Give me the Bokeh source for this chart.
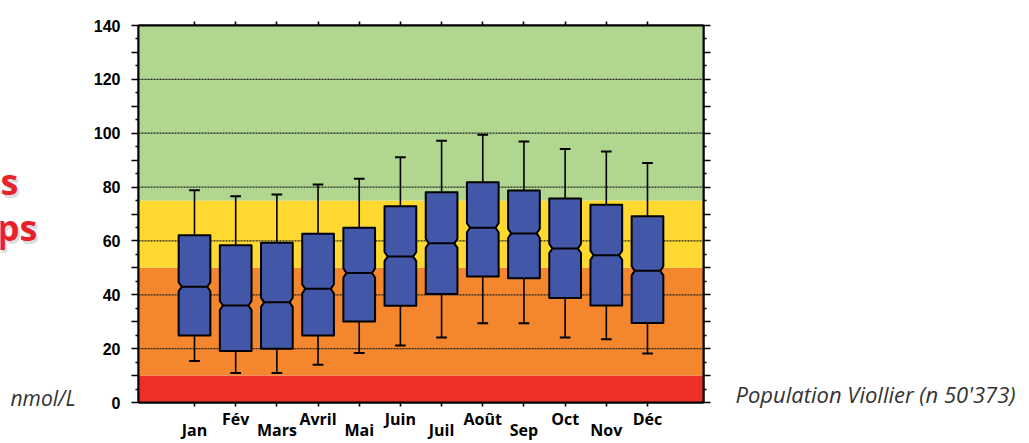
from bokeh.plotting import figure
from bokeh.models import FixedTicker, LinearAxis, Range1d
from bokeh.layouts import row
from bokeh.embed import file_html
from bokeh.resources import INLINE
from bokeh.core.properties import value

# ---------------- data ----------------
months = ["Jan", "Fév", "Mars", "Avril", "Mai", "Juin", "Juil", "Août", "Sep", "Oct", "Nov", "Déc"]
whisker_low = [15.4, 11.0, 11.0, 14.0, 18.4, 21.2, 24.1, 29.4, 29.4, 24.1, 23.5, 18.2]
q1 = [24.9, 19.1, 20.0, 24.9, 30.1, 35.9, 40.3, 46.8, 46.1, 38.8, 36.0, 29.5]
median = [43.0, 36.0, 37.2, 42.2, 48.1, 54.2, 59.1, 64.9, 62.8, 57.2, 54.7, 48.9]
q3 = [62.1, 58.4, 59.3, 62.7, 64.9, 72.9, 78.1, 81.8, 78.7, 75.8, 73.4, 69.2]
whisker_high = [78.8, 76.6, 77.2, 81.0, 83.1, 91.1, 97.2, 99.4, 96.9, 94.1, 93.2, 88.9]

zone_bottom = [0, 10, 50, 75]
zone_top = [10, 50, 75, 140]
zone_colors = ["#EE3128", "#F4862D", "#FFD92F", "#B0D68F"]

y_label_ticks = [0, 20, 40, 60, 80, 100, 120, 140]
grid_values = [20, 40, 60, 80, 100, 120]

unit_label = "nmol/L"
source_label = "Population Viollier (n 50'373)"
side_text = ["fréquentes", "temps"]

# ---------------- layout ----------------
H = 443
LW = 90            # left text panel width
MW = 623           # main plot width
RW = 1029 - LW - MW
X0, X1 = -0.36, 13.36
Y0, Y1 = 0, 140


def text_panel(width):
    f = figure(width=width, height=H, output_backend="svg", toolbar_location=None,
               x_range=Range1d(0, width), y_range=Range1d(H, 0),
               x_axis_location=None, y_axis_location=None, frame_align=False,
               min_border=0, min_border_left=0, min_border_right=0,
               min_border_top=0, min_border_bottom=0)
    f.xgrid.visible = False
    f.ygrid.visible = False
    f.outline_line_color = None
    f.background_fill_color = "white"
    f.border_fill_color = "white"
    return f


# ---------------- main plot ----------------
p = figure(width=MW, height=H, output_backend="svg", toolbar_location=None,
           x_range=Range1d(X0, X1), y_range=Range1d(Y0, Y1), frame_align=False,
           min_border_left=138 - LW, min_border_right=MW - (703 - LW),
           min_border_top=25, min_border_bottom=H - 403)
p.xgrid.visible = False
p.ygrid.visible = False
p.background_fill_color = "white"
p.border_fill_color = "white"
p.outline_line_color = "black"
p.outline_line_width = 2

p.quad(left=[X0] * len(zone_bottom), right=[X1] * len(zone_bottom),
       bottom=zone_bottom, top=zone_top, fill_color=zone_colors, line_color=None)

p.segment(x0=[X0] * len(grid_values), x1=[X1] * len(grid_values), y0=grid_values, y1=grid_values,
          line_color="#222222", line_width=1.3, line_dash="2 1")

xpos = list(range(1, len(months) + 1))
hw, nd, nh, cap = 0.385, 0.075, 1.7, 0.13

p.segment(x0=xpos, x1=xpos, y0=q3, y1=whisker_high, line_color="black", line_width=1.6)
p.segment(x0=xpos, x1=xpos, y0=q1, y1=whisker_low, line_color="black", line_width=1.6)
p.segment(x0=[x - cap for x in xpos], x1=[x + cap for x in xpos], y0=whisker_high, y1=whisker_high,
          line_color="black", line_width=2)
p.segment(x0=[x - cap for x in xpos], x1=[x + cap for x in xpos], y0=whisker_low, y1=whisker_low,
          line_color="black", line_width=2)

xs, ys = [], []
for x, a, m, b in zip(xpos, q1, median, q3):
    xs.append([x - hw, x - hw, x - hw + nd, x - hw, x - hw, x + hw, x + hw, x + hw - nd, x + hw, x + hw])
    ys.append([a, m - nh, m, m + nh, b, b, m + nh, m, m - nh, a])
p.patches(xs, ys, fill_color="#4257A7", line_color="black", line_width=2, line_join="round")
p.segment(x0=[x - hw + nd for x in xpos], x1=[x + hw - nd for x in xpos], y0=median, y1=median,
          line_color="black", line_width=2)

major = list(range(0, 141, 10))
minor = list(range(5, 140, 10))
overrides = {t: (str(t) if t in y_label_ticks else "") for t in major}

yl = p.yaxis[0]
yl.ticker = FixedTicker(ticks=major, minor_ticks=minor)
yl.major_label_overrides = overrides
yl.major_label_text_font = "Liberation Sans"
yl.major_label_text_font_style = "bold"
yl.major_label_text_font_size = "16px"
yl.major_label_text_color = "black"
yl.major_label_standoff = 11
yl.major_tick_out = 7
yl.major_tick_in = 0
yl.minor_tick_out = 3
yl.minor_tick_in = 0
yl.major_tick_line_width = 1.6
yl.minor_tick_line_width = 1.6
yl.axis_line_width = 2
yl.axis_line_color = "black"

yr = LinearAxis(ticker=FixedTicker(ticks=major, minor_ticks=minor),
                major_label_overrides={t: "" for t in major},
                major_label_text_font_size="1px", major_label_standoff=0,
                major_tick_out=7, major_tick_in=0, minor_tick_out=3, minor_tick_in=0,
                major_tick_line_width=1.6, minor_tick_line_width=1.6,
                axis_line_width=2, axis_line_color="black")
p.add_layout(yr, "right")

# bottom axis: staggered month labels (odd months pushed to a second line)
xb = p.xaxis[0]
xb.ticker = FixedTicker(ticks=xpos, minor_ticks=[])
xb.major_label_overrides = {x: (m if i % 2 == 1 else "\n" + m) for i, (x, m) in enumerate(zip(xpos, months))}
xb.major_label_text_font = "Open Sans"
xb.major_label_text_font_style = "bold"
xb.major_label_text_font_size = "16px"
xb.major_label_text_line_height = 0.5
xb.major_label_text_color = "black"
xb.major_label_standoff = 1
xb.major_tick_out = 4
xb.major_tick_in = 0
xb.major_tick_line_width = 1.6
xb.axis_line_width = 2
xb.axis_line_color = "black"

xt = LinearAxis(ticker=FixedTicker(ticks=xpos, minor_ticks=[]),
                major_label_overrides={x: "" for x in xpos},
                major_label_text_font_size="1px", major_label_standoff=0,
                major_tick_out=4, major_tick_in=0, major_tick_line_width=1.6,
                axis_line_width=2, axis_line_color="black")
p.add_layout(xt, "above")

# ---------------- left text panel ----------------
lp = text_panel(LW)
for txt, rx, by in zip(side_text, [18, 37], [181, 227]):
    lp.text(x=[rx + 2], y=[by + 3], text=[txt], text_align="right", text_baseline="alphabetic",
            text_font=value("Open Sans"), text_font_style="bold", text_font_size="36px",
            text_color="#888888", text_alpha=0.3)
    lp.text(x=[rx], y=[by], text=[txt], text_align="right", text_baseline="alphabetic",
            text_font=value("Open Sans"), text_font_style="bold", text_font_size="36px",
            text_color="#E8212B")
lp.text(x=[10], y=[397], text=[unit_label], text_align="left", text_baseline="alphabetic",
        text_font=value("Open Sans"), text_font_style="italic", text_font_size="21px",
        text_color="#333333")

# ---------------- right text panel ----------------
rp = text_panel(RW)
rp.text(x=[735 - (LW + MW)], y=[393], text=[source_label], text_align="left", text_baseline="alphabetic",
        text_font=value("Open Sans"), text_font_style="italic", text_font_size="22px",
        text_color="#333333")

layout = row(lp, p, rp)
open("out.html", "w").write(file_html(layout, INLINE, "chart"))
